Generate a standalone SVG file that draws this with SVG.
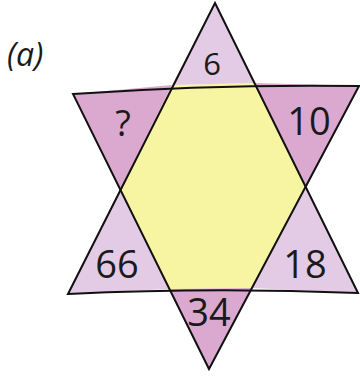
<svg xmlns="http://www.w3.org/2000/svg" width="360" height="377" viewBox="0 0 360 377">
<style>
.pink{fill:#dba9cf}
.lilac{fill:#e3cbe5}
.hex{fill:#f8f5a2}
.edge{fill:none;stroke:#111;stroke-width:2;stroke-linejoin:miter}
.num{font-family:"Open Sans","Liberation Sans",sans-serif;font-size:38px;fill:#1a1a1a;text-anchor:middle}
</style>
<rect width="360" height="377" fill="#ffffff"/>
<text x="7" y="66" font-family="Open Sans, Liberation Sans, sans-serif" font-size="32" font-style="italic" fill="#1a1a1a">(a)</text>
<g id="hexagon"><polygon class="hex" points="172,85 255,83 306,188 252,288 170,289 120,190"/></g>
<g id="top"><polygon class="lilac" points="215,3 172,85 255,83"/><text class="num" x="212" y="75" style="font-size:31px">6</text></g>
<g id="upper-left"><polygon class="pink" points="73,94 172,85 120,190"/><text class="num" x="123" y="136" style="font-size:36px">?</text></g>
<g id="upper-right"><polygon class="pink" points="255,83 359,86 306,188"/><text class="num" x="309" y="135">10</text></g>
<g id="lower-left"><polygon class="lilac" points="120,190 170,289 68,294"/><text class="num" x="117" y="278">66</text></g>
<g id="lower-right"><polygon class="lilac" points="306,188 358,293 252,288"/><text class="num" x="305" y="278">18</text></g>
<g id="bottom"><polygon class="pink" points="170,289 252,288 209,369"/><text class="num" x="209" y="326">34</text></g>
<g id="connectors">
<path class="edge" d="M215,3 L358,293 Q213,287 68,294 Z"/>
<path class="edge" d="M73,94 Q216,84 359,86 L209,369 Z"/>
</g>
</svg>
